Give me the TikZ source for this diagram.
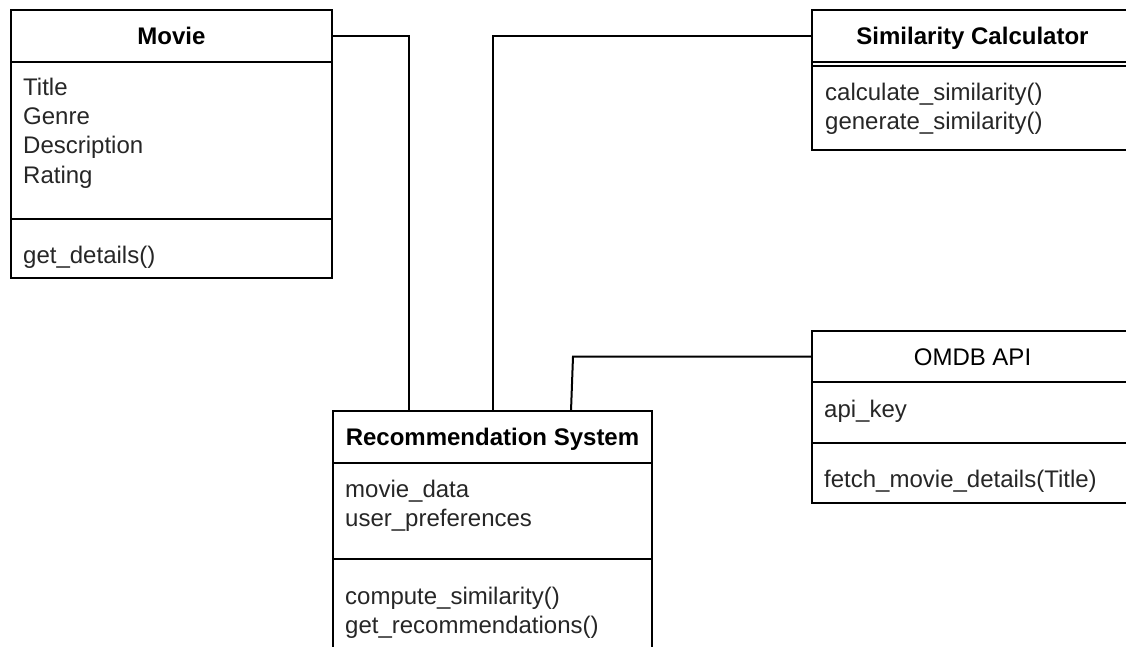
\documentclass[tikz,border=0pt]{standalone}
\usepackage{fontspec}
\setmainfont{Liberation Sans}
\usetikzlibrary{calc}
\begin{document}
\begin{tikzpicture}[x=1pt,y=-1pt,
  box/.style={draw=black,line width=2pt,rectangle,inner sep=0pt,outer sep=0pt,anchor=north west},
  hdr/.style={font=\fontsize{24}{29}\selectfont\bfseries,text height=17pt,text depth=0pt},
  hdrn/.style={font=\fontsize{24}{29}\selectfont,text height=17pt,text depth=0pt},
  item/.style={font=\fontsize{24}{29}\selectfont,text=black!85,anchor=base west,inner sep=0pt},
  conn/.style={draw=black,line width=2pt}]
\useasboundingbox (0,0) rectangle (1126,647);
\clip (0,0) rectangle (1126,647);

% Movie
\node[box,hdr,minimum width=321pt,minimum height=52pt] (movieH) at (11,10) {Movie};
\node[box,minimum width=321pt,minimum height=157pt] (movieA) at (movieH.south west) {};
\node[box,minimum width=321pt,minimum height=59pt] (movieM) at (movieA.south west) {};
\node[item] (m1) at ($(movieA.north west)+(12,34)$) {Title};
\node[item] (m2) at ($(movieA.north west)+(12,63)$) {Genre};
\node[item] (m3) at ($(movieA.north west)+(12,92)$) {Description};
\node[item] (m4) at ($(movieA.north west)+(12,121)$) {Rating};
\node[item] (m5) at ($(movieM.north west)+(12,44)$) {get\_details()};

% Similarity Calculator
\node[box,hdr,minimum width=321pt,minimum height=52pt] (simH) at (812,10) {Similarity Calculator};
\node[box,minimum width=321pt,minimum height=88pt] (simM) at (simH.south west) {};
\draw[line width=1.5pt] ($(simH.south west)+(0,4)$) -- ($(simH.south east)+(0,4)$);
\node[item] (s1) at ($(simM.north west)+(13,39)$) {calculate\_similarity()};
\node[item] (s2) at ($(simM.north west)+(13,68)$) {generate\_similarity()};

% OMDB API
\node[box,hdrn,minimum width=321pt,minimum height=51pt] (omdbH) at (812,331) {OMDB API};
\node[box,minimum width=321pt,minimum height=61pt] (omdbA) at (omdbH.south west) {};
\node[box,minimum width=321pt,minimum height=60pt] (omdbM) at (omdbA.south west) {};
\node[item] (o1) at ($(omdbA.north west)+(12,35)$) {api\_key};
\node[item] (o2) at ($(omdbM.north west)+(12,44)$) {fetch\_movie\_details(Title)};

% Recommendation System
\node[box,hdr,minimum width=319pt,minimum height=52pt] (recH) at (333,411) {Recommendation System};
\node[box,minimum width=319pt,minimum height=96pt] (recA) at (recH.south west) {};
\node[box,minimum width=319pt,minimum height=120pt] (recM) at (recA.south west) {};
\node[item] (r1) at ($(recA.north west)+(12,34)$) {movie\_data};
\node[item] (r2) at ($(recA.north west)+(12,63)$) {user\_preferences};
\node[item] (r3) at ($(recM.north west)+(12,45)$) {compute\_similarity()};
\node[item] (r4) at ($(recM.north west)+(12,74)$) {get\_recommendations()};

% Connectors
\coordinate (ob) at ($(recH.north)+(80.5,0)$);
\draw[conn] (movieH.east) -| ($(recH.north west)+(76,0)$);
\draw[conn] (simH.west) -| (recH.north);
\draw[conn] (omdbH.west) -- (ob |- omdbH.west) -- ([xshift=78.5pt]recH.north);
\end{tikzpicture}
\end{document}
